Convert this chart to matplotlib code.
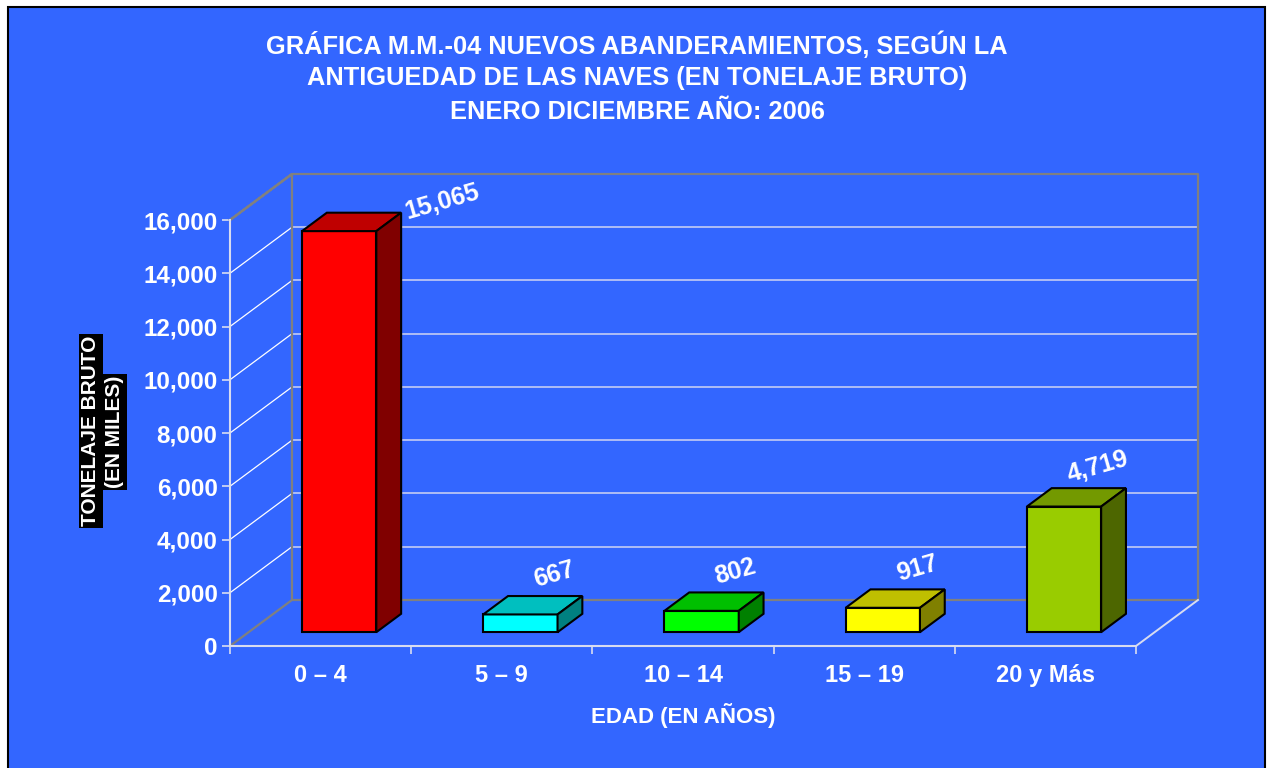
import matplotlib
matplotlib.use("Agg")
import matplotlib.pyplot as plt
from matplotlib.patches import Polygon, Rectangle
from matplotlib.colors import to_rgb
import numpy as np

plt.rcParams['font.family'] = ['Liberation Sans', 'DejaVu Sans']
plt.rcParams['font.weight'] = 'bold'

# datos
categorias = ['0 – 4', '5 – 9', '10 – 14', '15 – 19', '20 y Más']
tonelaje = [15065, 667, 802, 917, 4719]
colores = ['#FF0000', '#00FFFF', '#00FF00', '#FFFF00', '#99CC00']
yticks = list(range(0, 16001, 2000))

titulo = ['GRÁFICA M.M.-04 NUEVOS ABANDERAMIENTOS, SEGÚN LA',
          'ANTIGUEDAD DE LAS NAVES (EN TONELAJE BRUTO)',
          'ENERO DICIEMBRE AÑO: 2006']

# efecto 3d (profundidad en unidades de datos)
DX = 0.342
DY = 1728
ancho = 0.41
d0 = 0.3      # donde empieza la barra en profundidad
prof = 0.4    # profundidad de la barra

fig = plt.figure(figsize=(12.67, 7.68), dpi=100, facecolor='white')
fig.patches.append(Rectangle((8 / 1267, -0.02), 1257 / 1267, 761 / 768 + 0.02,
                             transform=fig.transFigure, facecolor='#3366FF',
                             edgecolor='black', lw=1.5, zorder=-10))

ax = fig.add_axes([230 / 1267, 122 / 768, 968 / 1267, 472 / 768])
ax.set_facecolor('none')
n = len(categorias)
ax.set_xlim(0, n + DX)
ax.set_ylim(0, yticks[-1] + DY)

gris = '#808080'
# pared del fondo
for v in yticks[1:-1]:
    ax.plot([DX, n + DX], [v + DY, v + DY], color='#C4CCF4', lw=1.2, zorder=1)
    ax.plot([0, DX], [v, v + DY], color='white', lw=0.9, zorder=1)
ytop = yticks[-1]
ax.plot([0, DX, n + DX, n + DX, DX, DX, 0], [ytop, ytop + DY, ytop + DY, DY, DY, ytop + DY, ytop],
        color=gris, lw=1.6, zorder=2, clip_on=False)
ax.plot([0, DX], [0, DY], color=gris, lw=1.6, zorder=2)
ax.plot([n, n + DX], [0, DY], color='#D8DCF0', lw=1.4, zorder=2, clip_on=False)

# barras
xl = np.arange(n) + (1 - ancho) / 2 + d0 * DX
base = d0 * DY
ax.bar(xl, tonelaje, width=ancho, bottom=base, align='edge', color=colores,
       edgecolor='black', lw=1.5, zorder=5)
for i, v in enumerate(tonelaje):
    c = np.array(to_rgb(colores[i]))
    x0, x1 = xl[i], xl[i] + ancho
    y0, y1 = base, base + v
    ddx, ddy = prof * DX, prof * DY
    top = [(x0, y1), (x0 + ddx, y1 + ddy), (x1 + ddx, y1 + ddy), (x1, y1)]
    side = [(x1, y0), (x1 + ddx, y0 + ddy), (x1 + ddx, y1 + ddy), (x1, y1)]
    ax.add_patch(Polygon(top, closed=True, facecolor=c * 0.75, edgecolor='black', lw=1.5, zorder=5))
    ax.add_patch(Polygon(side, closed=True, facecolor=c * 0.5, edgecolor='black', lw=1.5, zorder=5))

# etiquetas de datos
desplaz = [(74, 21), (24.5, 28.5), (24.5, 28.5), (24.5, 28.5), (24.5, 28.5)]
for i, v in enumerate(tonelaje):
    ax.annotate(f'{v:,}', (xl[i] + ancho / 2, base + v), xytext=desplaz[i],
                textcoords='offset points', ha='center', va='center',
                rotation=16, color='white', fontsize=18, fontweight='bold', zorder=6)

# ejes
for s in ['top', 'right']:
    ax.spines[s].set_visible(False)
ax.spines['left'].set_bounds(0, ytop)
ax.spines['bottom'].set_bounds(0, n)
for s in ['left', 'bottom']:
    ax.spines[s].set_color('#D8DCF0')
    ax.spines[s].set_linewidth(1.5)
    ax.spines[s].set_zorder(3)

ax.set_yticks(yticks)
ax.set_yticklabels([f'{t:,}' for t in yticks])
ax.tick_params(axis='y', direction='out', length=6, width=1.2, color='#D8DCF0',
               labelcolor='white', labelsize=17.5, pad=3)
ax.set_xticks(np.arange(n + 1))
ax.set_xticklabels([])
ax.set_xticks(np.arange(n) + 0.5, minor=True)
ax.set_xticklabels(categorias, minor=True)
ax.tick_params(axis='x', which='major', direction='out', length=6, width=1.2, color='#D8DCF0')
ax.tick_params(axis='x', which='minor', length=0, labelcolor='white', labelsize=17, pad=13)
for lab in ax.get_yticklabels() + ax.get_xticklabels(minor=True):
    lab.set_fontweight('bold')

fig.text(683 / 1267, 1 - 715 / 768, 'EDAD (EN AÑOS)', ha='center', va='center',
         color='white', fontsize=16, fontweight='bold')

fig.text(91 / 1267, 1 - 431 / 768, 'TONELAJE BRUTO', rotation=90, ha='center', va='center',
         color='white', fontsize=15, fontweight='bold',
         bbox=dict(facecolor='black', edgecolor='none', pad=1.5))
fig.text(115 / 1267, 1 - 432 / 768, '(EN MILES)', rotation=90, ha='center', va='center',
         color='white', fontsize=15, fontweight='bold',
         bbox=dict(facecolor='black', edgecolor='none', pad=1.5))

for k, linea in enumerate(titulo):
    fig.text(637 / 1267, 1 - (45 + 33.5 * k) / 768, linea, ha='center', va='center',
             color='white', fontsize=18.3, fontweight='bold')

fig.savefig('out.png', dpi=100, facecolor=fig.get_facecolor())
